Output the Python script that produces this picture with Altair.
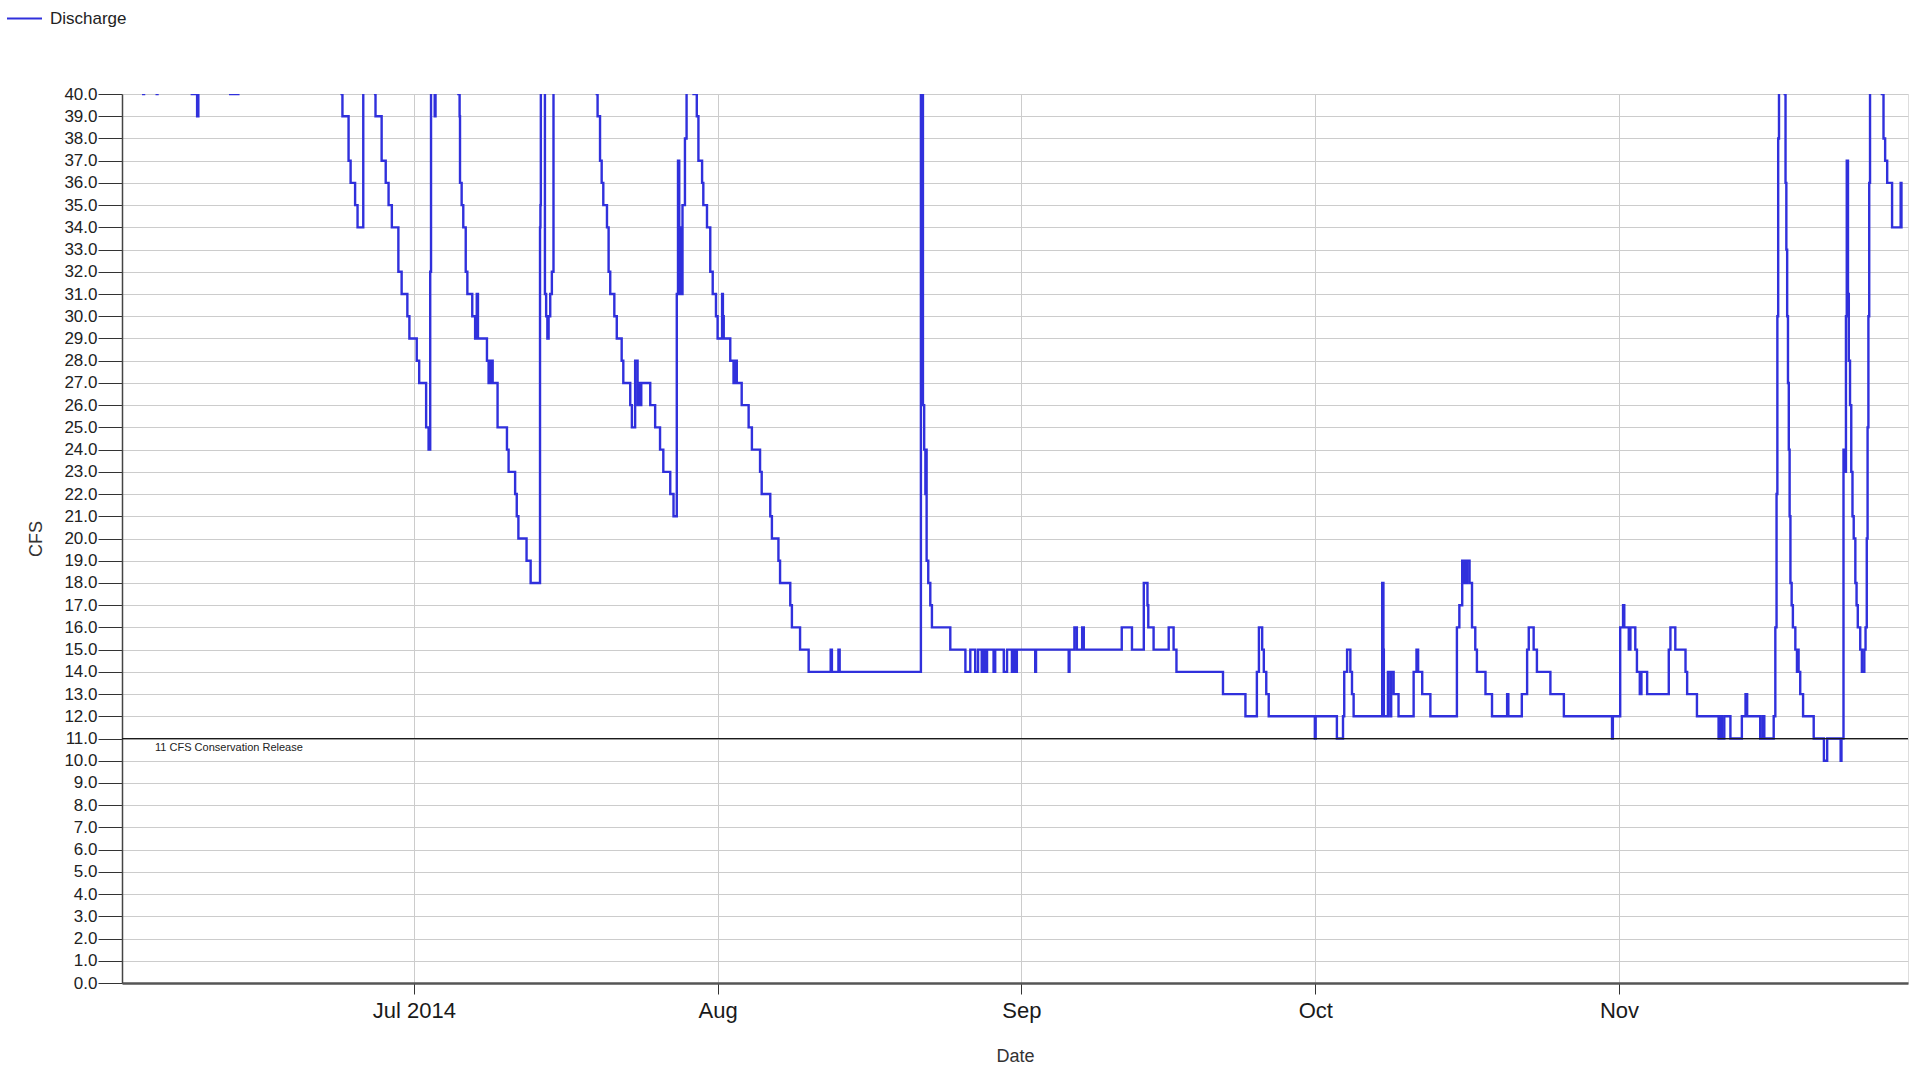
import altair as alt
import pandas as pd

# ---------------- data ----------------
# Change points: the discharge value holds from each time until the next one.
JUN_T = ["2014-06-01T00:00", "2014-06-03T09:00", "2014-06-03T11:00", "2014-06-04T18:00", "2014-06-04T20:00",
         "2014-06-08T08:00", "2014-06-08T21:00", "2014-06-09T00:00", "2014-06-12T06:00", "2014-06-13T02:00",
         "2014-06-23T15:00", "2014-06-23T17:00", "2014-06-24T08:00", "2014-06-24T13:00", "2014-06-25T00:00",
         "2014-06-25T06:00", "2014-06-25T20:00", "2014-06-27T01:00", "2014-06-27T02:00", "2014-06-27T17:00",
         "2014-06-28T03:00", "2014-06-28T10:00", "2014-06-28T18:00", "2014-06-29T10:00", "2014-06-29T18:00",
         "2014-06-30T08:00", "2014-06-30T13:00"]
JUN_V = [47, 40, 45, 40, 46,
         40, 39, 44, 40, 52,
         40, 39, 37, 36, 35,
         34, 48, 40, 39, 37,
         36, 35, 34, 32, 31,
         30, 29]

JUL_T = ["2014-07-01T07:00", "2014-07-01T13:00", "2014-07-02T06:00", "2014-07-02T12:00", "2014-07-02T16:00",
         "2014-07-02T18:00", "2014-07-03T03:00", "2014-07-03T05:00", "2014-07-05T13:00", "2014-07-05T16:00",
         "2014-07-05T17:00", "2014-07-05T21:00", "2014-07-06T01:00", "2014-07-06T07:00", "2014-07-06T11:00",
         "2014-07-06T23:00", "2014-07-07T06:00", "2014-07-07T10:00", "2014-07-07T13:00", "2014-07-08T11:00",
         "2014-07-08T15:00", "2014-07-08T20:00", "2014-07-09T01:00", "2014-07-09T13:00", "2014-07-10T12:00",
         "2014-07-10T16:00", "2014-07-11T08:00", "2014-07-11T12:00", "2014-07-11T16:00", "2014-07-12T12:00",
         "2014-07-12T22:00", "2014-07-13T21:00", "2014-07-13T22:00", "2014-07-13T23:00", "2014-07-14T09:00",
         "2014-07-14T12:00", "2014-07-14T15:00", "2014-07-14T18:00", "2014-07-14T22:00", "2014-07-15T02:00",
         "2014-07-15T06:00", "2014-07-19T16:00", "2014-07-19T18:00", "2014-07-20T00:00", "2014-07-20T04:00",
         "2014-07-20T08:00", "2014-07-20T17:00", "2014-07-20T21:00", "2014-07-21T01:00", "2014-07-21T11:00",
         "2014-07-21T17:00", "2014-07-22T05:00", "2014-07-22T09:00", "2014-07-23T02:00", "2014-07-23T06:00",
         "2014-07-23T14:00", "2014-07-23T20:00", "2014-07-24T00:00", "2014-07-24T02:00", "2014-07-24T05:00",
         "2014-07-25T03:00", "2014-07-25T15:00", "2014-07-26T03:00", "2014-07-26T11:00", "2014-07-27T04:00",
         "2014-07-27T12:00", "2014-07-27T20:00", "2014-07-27T23:00", "2014-07-28T02:00", "2014-07-28T05:00",
         "2014-07-28T07:00", "2014-07-28T10:00", "2014-07-28T16:00", "2014-07-28T20:00", "2014-07-29T13:00",
         "2014-07-29T21:00", "2014-07-30T01:00", "2014-07-30T10:00", "2014-07-30T13:00", "2014-07-30T22:00",
         "2014-07-31T06:00", "2014-07-31T12:00", "2014-07-31T20:00"]
JUL_V = [28, 27, 25, 24, 32,
         50, 39, 47, 40, 39,
         36, 35, 34, 32, 31,
         30, 29, 31, 29, 28,
         27, 28, 27, 25, 24,
         23, 22, 21, 20, 19,
         18, 34, 35, 50, 31,
         30, 29, 30, 31, 32,
         55, 40, 39, 37, 36,
         35, 34, 32, 31, 30,
         29, 28, 27, 26, 25,
         28, 26, 27, 26, 27,
         26, 25, 24, 23, 22,
         21, 31, 37, 31, 34,
         31, 35, 38, 46, 40,
         39, 37, 36, 35, 34,
         32, 31, 30]

AUG_T = ["2014-08-01T00:00", "2014-08-01T11:00", "2014-08-01T13:00", "2014-08-01T15:00", "2014-08-02T07:00",
         "2014-08-02T15:00", "2014-08-02T19:00", "2014-08-02T23:00", "2014-08-03T11:00", "2014-08-04T04:00",
         "2014-08-04T12:00", "2014-08-05T08:00", "2014-08-05T12:00", "2014-08-06T09:00", "2014-08-06T13:00",
         "2014-08-07T05:00", "2014-08-07T09:00", "2014-08-08T10:00", "2014-08-08T14:00", "2014-08-09T10:00",
         "2014-08-10T07:00", "2014-08-12T13:00", "2014-08-12T16:00", "2014-08-13T08:00", "2014-08-13T11:00",
         "2014-08-21T18:00", "2014-08-21T23:00", "2014-08-22T02:00", "2014-08-22T05:00", "2014-08-22T07:00",
         "2014-08-22T08:00", "2014-08-22T12:00", "2014-08-22T17:00", "2014-08-22T21:00", "2014-08-24T18:00",
         "2014-08-26T07:00", "2014-08-26T19:00", "2014-08-27T07:00", "2014-08-27T14:00", "2014-08-27T23:00",
         "2014-08-28T04:00", "2014-08-28T08:00", "2014-08-28T12:00", "2014-08-29T04:00", "2014-08-29T08:00",
         "2014-08-30T05:00", "2014-08-30T13:00", "2014-08-31T01:00", "2014-08-31T05:00", "2014-08-31T09:00",
         "2014-08-31T13:00"]
AUG_V = [29, 31, 30, 29, 28,
         27, 28, 27, 26, 25,
         24, 23, 22, 21, 20,
         19, 18, 17, 16, 15,
         14, 15, 14, 15, 14,
         44, 26, 24, 22, 24,
         19, 18, 17, 16, 15,
         14, 15, 14, 15, 14,
         15, 14, 15, 14, 15,
         14, 15, 14, 15, 14,
         15]

SEP_T = ["2014-09-02T10:00", "2014-09-02T12:00", "2014-09-05T20:00", "2014-09-05T22:00", "2014-09-06T10:00",
         "2014-09-06T16:00", "2014-09-07T05:00", "2014-09-07T09:00", "2014-09-11T06:00", "2014-09-12T07:00",
         "2014-09-13T12:00", "2014-09-13T21:00", "2014-09-13T23:00", "2014-09-14T12:00", "2014-09-16T01:00",
         "2014-09-16T13:00", "2014-09-16T20:00", "2014-09-21T14:00", "2014-09-23T21:00", "2014-09-25T01:00",
         "2014-09-25T06:00", "2014-09-25T14:00", "2014-09-25T18:00", "2014-09-26T00:00", "2014-09-26T06:00",
         "2014-09-30T23:00"]
SEP_V = [14, 15, 14, 15, 16,
         15, 16, 15, 16, 15,
         18, 17, 16, 15, 16,
         15, 14, 13, 12, 14,
         16, 15, 14, 13, 12,
         11]

OCT_T = ["2014-10-01T01:00", "2014-10-03T05:00", "2014-10-03T20:00", "2014-10-03T23:00", "2014-10-04T06:00",
         "2014-10-04T14:00", "2014-10-04T18:00", "2014-10-04T22:00", "2014-10-07T20:00", "2014-10-07T23:00",
         "2014-10-08T00:00", "2014-10-08T10:00", "2014-10-08T16:00", "2014-10-08T18:00", "2014-10-09T00:00",
         "2014-10-09T12:00", "2014-10-11T01:00", "2014-10-11T08:00", "2014-10-11T12:00", "2014-10-11T22:00",
         "2014-10-12T18:00", "2014-10-15T11:00", "2014-10-15T17:00", "2014-10-16T00:00", "2014-10-16T04:00",
         "2014-10-16T06:00", "2014-10-16T10:00", "2014-10-16T12:00", "2014-10-16T18:00", "2014-10-17T00:00",
         "2014-10-17T08:00", "2014-10-17T12:00", "2014-10-18T09:00", "2014-10-19T01:00", "2014-10-20T14:00",
         "2014-10-20T17:00", "2014-10-22T02:00", "2014-10-22T15:00", "2014-10-22T19:00", "2014-10-23T07:00",
         "2014-10-23T15:00", "2014-10-25T00:00", "2014-10-26T09:00", "2014-10-31T07:00", "2014-10-31T09:00"]
OCT_V = [12, 11, 12, 14, 15,
         14, 13, 12, 18, 15,
         12, 14, 12, 14, 13,
         12, 14, 15, 14, 13,
         12, 16, 17, 19, 18,
         19, 18, 19, 18, 16,
         15, 14, 13, 12, 13,
         12, 13, 15, 16, 15,
         14, 13, 12, 11, 12]

NOV_T = ["2014-11-01T03:00", "2014-11-01T10:00", "2014-11-01T13:00", "2014-11-02T00:00", "2014-11-02T04:00",
         "2014-11-02T16:00", "2014-11-02T20:00", "2014-11-03T03:00", "2014-11-03T07:00", "2014-11-03T21:00",
         "2014-11-06T02:00", "2014-11-06T06:00", "2014-11-06T18:00", "2014-11-07T19:00", "2014-11-07T23:00",
         "2014-11-08T23:00", "2014-11-11T04:00", "2014-11-11T08:00", "2014-11-11T12:00", "2014-11-11T18:00",
         "2014-11-12T09:00", "2014-11-13T13:00", "2014-11-13T22:00", "2014-11-14T02:00", "2014-11-15T10:00",
         "2014-11-15T16:00", "2014-11-15T20:00", "2014-11-16T19:00", "2014-11-16T23:00", "2014-11-17T02:00",
         "2014-11-17T04:00", "2014-11-17T06:00", "2014-11-17T08:00", "2014-11-17T22:00", "2014-11-18T00:00",
         "2014-11-18T02:00", "2014-11-18T04:00", "2014-11-18T06:00", "2014-11-18T08:00", "2014-11-18T10:00",
         "2014-11-18T12:00", "2014-11-18T15:00", "2014-11-18T18:00", "2014-11-19T00:00", "2014-11-19T04:00",
         "2014-11-19T06:00", "2014-11-19T08:00", "2014-11-19T12:00", "2014-11-19T19:00", "2014-11-20T21:00",
         "2014-11-21T22:00", "2014-11-22T06:00", "2014-11-23T15:00", "2014-11-23T17:00", "2014-11-23T22:00",
         "2014-11-24T02:00", "2014-11-24T04:00", "2014-11-24T06:00", "2014-11-24T09:00", "2014-11-24T11:00",
         "2014-11-24T14:00", "2014-11-24T17:00", "2014-11-24T20:00", "2014-11-24T23:00", "2014-11-25T03:00",
         "2014-11-25T06:00", "2014-11-25T09:00", "2014-11-25T15:00", "2014-11-25T19:00", "2014-11-26T01:00",
         "2014-11-26T04:00", "2014-11-26T07:00", "2014-11-26T09:00", "2014-11-26T11:00", "2014-11-26T13:00",
         "2014-11-26T15:00", "2014-11-27T20:00", "2014-11-28T00:00", "2014-11-28T04:00", "2014-11-28T09:00",
         "2014-11-28T21:00", "2014-11-29T18:00", "2014-11-29T20:00", "2014-11-29T23:00"]
NOV_V = [16, 17, 16, 15, 16,
         15, 14, 13, 14, 13,
         15, 16, 15, 14, 13,
         12, 11, 12, 11, 12,
         11, 12, 13, 12, 11,
         12, 11, 12, 16, 22,
         30, 38, 50, 40, 36,
         33, 30, 27, 24, 21,
         18, 17, 16, 15, 14,
         15, 14, 13, 12, 11,
         10, 11, 10, 11, 24,
         23, 30, 37, 31, 28,
         26, 23, 21, 20, 18,
         17, 16, 15, 14, 15,
         16, 20, 25, 30, 36,
         46, 40, 38, 37, 36,
         34, 36, 34, 34]

SERIES_NAME = "Discharge"
Y_TICKS = list(range(0, 41))
MONTH_TICKS = ["2014-07-01", "2014-08-01", "2014-09-01", "2014-10-01", "2014-11-01"]
X_RANGE = ["2014-06-01T05:00", "2014-11-30T12:00"]
RELEASE_CFS = [11]
RELEASE_TEXT = ["11 CFS Conservation Release"]
RELEASE_TEXT_TIME = ["2014-06-04T14:00"]

# ---------------- build tables ----------------
times = JUN_T + JUL_T + AUG_T + SEP_T + OCT_T + NOV_T
values = JUN_V + JUL_V + AUG_V + SEP_V + OCT_V + NOV_V
df = pd.DataFrame({"Date": times, "CFS": values, "series": SERIES_NAME})

rule_df = pd.DataFrame({"CFS": RELEASE_CFS})
label_df = pd.DataFrame({"Date": RELEASE_TEXT_TIME, "CFS": RELEASE_CFS, "txt": RELEASE_TEXT})


def to_dt(s):
    t = pd.Timestamp(s)
    return alt.DateTime(year=t.year, month=t.month, date=t.day, hours=t.hour, minutes=t.minute)


FONT = "Liberation Sans"
LINE_COLOR = "#3030dc"
GRID = "#cccccc"

x_enc = alt.X(
    "Date:T",
    scale=alt.Scale(domain=[to_dt(s) for s in X_RANGE], nice=False),
    axis=alt.Axis(
        values=[to_dt(s) for s in MONTH_TICKS],
        labelExpr="month(datum.value) == 6 ? timeFormat(datum.value, '%b %Y') : timeFormat(datum.value, '%b')",
        title="Date",
        titleFontSize=18, titleFontWeight="normal", titleColor="#333333", titleFont=FONT, titlePadding=26,
        labelFontSize=22, labelFont=FONT, labelColor="#1a1a1a", labelPadding=6,
        labelOverlap=False,
        tickSize=11, tickColor="#333333", tickWidth=1,
        domainColor="#555555", domainWidth=2.5,
        grid=True, gridColor=GRID, gridWidth=1,
    ),
)

y_axis = alt.Axis(
    values=Y_TICKS, format=".1f",
    title="CFS",
    titleFontSize=18, titleFontWeight="normal", titleColor="#333333", titleFont=FONT, titlePadding=18,
    labelFontSize=17, labelFont=FONT, labelColor="#222222", labelPadding=1,
    labelOverlap=False, labelBound=False,
    tickSize=24, tickColor="#333333", tickWidth=1,
    domainColor="#444444", domainWidth=1.5,
    grid=True, gridColor=GRID, gridWidth=1,
)
y_scale = alt.Scale(domain=[0, 40], nice=False, zero=True)


def y_enc():
    return alt.Y("CFS:Q", scale=y_scale, axis=y_axis)


line = alt.Chart(df).mark_line(
    interpolate="step-after", clip=True, strokeWidth=2.4
).encode(
    x=x_enc,
    y=y_enc(),
    color=alt.Color(
        "series:N",
        scale=alt.Scale(domain=[SERIES_NAME], range=[LINE_COLOR]),
        legend=alt.Legend(
            title=None, orient="none", legendX=-116, legendY=-94,
            symbolType="stroke", symbolSize=1225, symbolStrokeWidth=2,
            labelFontSize=17, labelFont=FONT, labelColor="#222222", labelOffset=7,
            padding=0,
        ),
    ),
)

rule = alt.Chart(rule_df).mark_rule(color="#1a1a1a", strokeWidth=1.3).encode(y=y_enc())

label = alt.Chart(label_df).mark_text(
    align="left", baseline="alphabetic", dy=12, fontSize=11, font=FONT, color="#222222"
).encode(x=x_enc, y=y_enc(), text="txt:N")

chart = alt.layer(line, rule, label).properties(
    width=1786,
    height=889,
    padding={"left": 122, "top": 94, "right": 6, "bottom": 86},
    autosize=alt.AutoSizeParams(type="none"),
    background="white",
).configure_view(stroke=None).configure(font=FONT)

chart.save("out.html", embed_options={"renderer": "svg", "actions": False})
